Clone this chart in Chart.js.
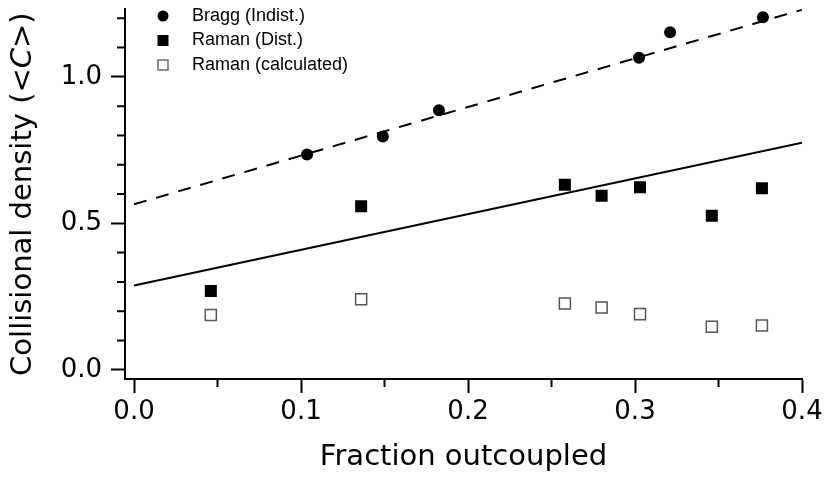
<!DOCTYPE html>
<html>
<head>
<meta charset="utf-8">
<script src="https://cdn.jsdelivr.net/npm/chart.js@4.4.0/dist/chart.umd.min.js"></script>
<style>
html, body { margin: 0; padding: 0; background: #fff; }
</style>
</head>
<body>
<canvas id="chart" width="825" height="481"></canvas>
<script>
// Dữ liệu
var braggX = [0.1036, 0.149, 0.1826, 0.3024, 0.321, 0.3766];
var braggY = [0.735, 0.796, 0.886, 1.065, 1.152, 1.203];
var ramanX = [0.046, 0.136, 0.258, 0.280, 0.303, 0.346, 0.376];
var ramanY = [0.269, 0.558, 0.632, 0.594, 0.623, 0.526, 0.620];
var calcY = [0.187, 0.241, 0.226, 0.2125, 0.190, 0.147, 0.151];
// Đường fit (điểm đầu, điểm cuối)
var fitX = [0, 0.4];
var braggFit = [0.565, 1.229];
var ramanFit = [0.288, 0.775];
var legendLabels = ['Bragg (Indist.)', 'Raman (Dist.)', 'Raman (calculated)'];
var xTitle = 'Fraction outcoupled';
var yTitleParts = [['Collisional density (<', false], ['C', true], ['>)', false]];

function pts(xs, ys) {
    return xs.map(function (x, i) { return {x: x, y: ys[i]}; });
}

var FONT = '"DejaVu Sans", sans-serif';

// Vạch chia phụ (ngắn hơn vạch chính)
var minorTicks = {
    id: 'minorTicks',
    afterDraw: function (chart) {
        var ctx = chart.ctx;
        var xs = chart.scales.x, ys = chart.scales.y;
        ctx.save();
        ctx.strokeStyle = '#000';
        ctx.lineWidth = 2;
        ctx.beginPath();
        xs.ticks.forEach(function (t) {
            if (t.label === '') {
                var px = xs.getPixelForValue(t.value);
                ctx.moveTo(px, xs.top);
                ctx.lineTo(px, xs.top + 8);
            }
        });
        ys.ticks.forEach(function (t) {
            if (t.label === '') {
                var py = ys.getPixelForValue(t.value);
                ctx.moveTo(ys.right, py);
                ctx.lineTo(ys.right - 8, py);
            }
        });
        ctx.stroke();
        ctx.restore();
    }
};

// Tiêu đề trục y có chữ C nghiêng
var yTitle = {
    id: 'yTitle',
    afterDraw: function (chart) {
        var ctx = chart.ctx;
        var area = chart.chartArea;
        var cy = (area.top + area.bottom) / 2;
        ctx.save();
        ctx.translate(23, cy);
        ctx.rotate(-Math.PI / 2);
        ctx.fillStyle = '#000';
        ctx.textBaseline = 'middle';
        ctx.textAlign = 'left';
        var total = 0;
        yTitleParts.forEach(function (p) {
            ctx.font = (p[1] ? 'italic ' : '') + '29px ' + FONT;
            total += ctx.measureText(p[0]).width;
        });
        var x = -total / 2;
        yTitleParts.forEach(function (p) {
            ctx.font = (p[1] ? 'italic ' : '') + '29px ' + FONT;
            ctx.fillText(p[0], x, 0);
            x += ctx.measureText(p[0]).width;
        });
        ctx.restore();
    }
};

// Chú thích bên trong vùng vẽ
var insideLegend = {
    id: 'insideLegend',
    afterDraw: function (chart) {
        var ctx = chart.ctx;
        ctx.save();
        ctx.font = '18px "Liberation Sans", Arial, sans-serif';
        ctx.textBaseline = 'middle';
        ctx.textAlign = 'left';
        var rows = chart.data.datasets.filter(function (d) { return d.inLegend; });
        rows.forEach(function (d, i) {
            var y = 16 + i * 24.5;
            var mx = 163;
            if (d.pointStyle === 'circle') {
                ctx.fillStyle = d.backgroundColor;
                ctx.beginPath();
                ctx.arc(mx, y, 5.5, 0, Math.PI * 2);
                ctx.fill();
            } else if (d.borderWidth > 0) {
                ctx.fillStyle = d.backgroundColor;
                ctx.strokeStyle = d.borderColor;
                ctx.lineWidth = 1.3;
                ctx.fillRect(mx - 5, y - 5, 10, 10);
                ctx.strokeRect(mx - 5, y - 5, 10, 10);
            } else {
                ctx.fillStyle = d.backgroundColor;
                ctx.fillRect(mx - 5.5, y - 5.5, 11, 11);
            }
            ctx.fillStyle = '#000';
            ctx.fillText(d.label, 192, y);
        });
        ctx.restore();
    }
};

new Chart(document.getElementById('chart'), {
    type: 'scatter',
    data: {
        datasets: [{
                label: legendLabels[0],
                inLegend: true,
                data: pts(braggX, braggY),
                pointStyle: 'circle',
                pointRadius: 6,
                pointHoverRadius: 6,
                backgroundColor: '#000',
                borderColor: '#000',
                borderWidth: 0,
                order: 1
            }, {
                label: legendLabels[1],
                inLegend: true,
                data: pts(ramanX, ramanY),
                pointStyle: 'rect',
                pointRadius: 8.5,
                pointHoverRadius: 8.5,
                backgroundColor: '#000',
                borderColor: '#000',
                borderWidth: 0,
                order: 1
            }, {
                label: legendLabels[2],
                inLegend: true,
                data: pts(ramanX, calcY),
                pointStyle: 'rect',
                pointRadius: 7.8,
                pointHoverRadius: 7.8,
                backgroundColor: '#fff',
                borderColor: '#555',
                borderWidth: 1.5,
                order: 1
            }, {
                label: 'fit Bragg',
                data: pts(fitX, braggFit),
                showLine: true,
                pointRadius: 0,
                borderColor: '#000',
                borderWidth: 2,
                borderDash: [13, 10],
                order: 2
            }, {
                label: 'fit Raman',
                data: pts(fitX, ramanFit),
                showLine: true,
                pointRadius: 0,
                borderColor: '#000',
                borderWidth: 2,
                order: 2
            }]
    },
    options: {
        responsive: false,
        animation: false,
        layout: {padding: {top: 5, right: 23, left: 0, bottom: 0}},
        plugins: {
            legend: {display: false},
            tooltip: {enabled: false}
        },
        scales: {
            x: {
                type: 'linear',
                min: -0.0054,
                max: 0.4,
                afterFit: function (s) {
                    s.height = 102;
                    s.paddingLeft = 0;
                    s.paddingRight = 0;
                },
                ticks: {
                    stepSize: 0.05,
                    includeBounds: false,
                    autoSkip: false,
                    maxRotation: 0,
                    padding: 4,
                    color: '#000',
                    font: {family: FONT, size: 26},
                    callback: function (v) {
                        var k = v * 10;
                        return Math.abs(k - Math.round(k)) < 1e-6 ? v.toFixed(1) : '';
                    }
                },
                grid: {
                    drawOnChartArea: false,
                    drawTicks: true,
                    tickLength: 14,
                    tickWidth: 2,
                    tickColor: function (c) {
                        return c.tick && c.tick.label === '' ? 'rgba(0,0,0,0)' : '#000';
                    }
                },
                border: {display: true, color: '#000', width: 2},
                title: {
                    display: true,
                    text: xTitle,
                    color: '#000',
                    font: {family: FONT, size: 29},
                    padding: {top: 0, bottom: 6}
                }
            },
            y: {
                type: 'linear',
                min: -0.0314,
                max: 1.2305,
                afterFit: function (s) {
                    s.width = 125;
                    s.paddingTop = 0;
                    s.paddingBottom = 0;
                },
                ticks: {
                    stepSize: 0.1,
                    includeBounds: false,
                    autoSkip: false,
                    padding: 9,
                    color: '#000',
                    font: {family: FONT, size: 26},
                    callback: function (v) {
                        var k = v * 2;
                        return Math.abs(k - Math.round(k)) < 1e-6 ? v.toFixed(1) : '';
                    }
                },
                grid: {
                    drawOnChartArea: false,
                    drawTicks: true,
                    tickLength: 14,
                    tickWidth: 2,
                    tickColor: function (c) {
                        return c.tick && c.tick.label === '' ? 'rgba(0,0,0,0)' : '#000';
                    }
                },
                border: {display: true, color: '#000', width: 2},
                title: {display: false}
            }
        }
    },
    plugins: [minorTicks, yTitle, insideLegend]
});
</script>
</body>
</html>
